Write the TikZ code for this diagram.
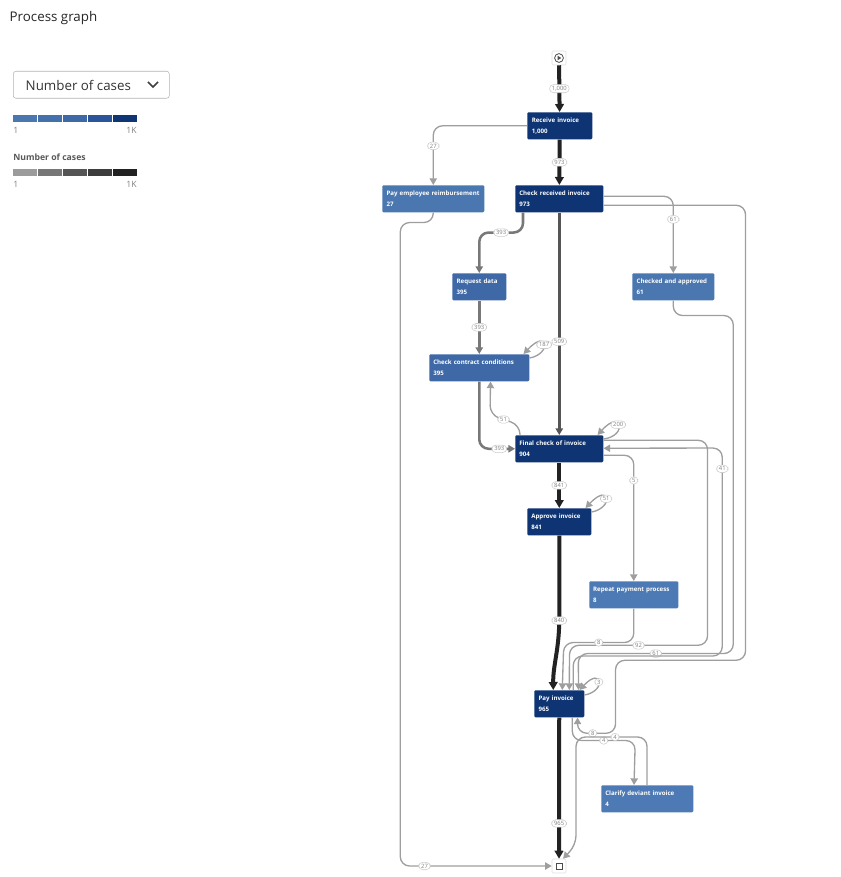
\documentclass[tikz,border=0pt]{standalone}
\usepackage{fontspec}
\setmainfont{Open Sans}
\usetikzlibrary{arrows.meta,calc}
\definecolor{dk}{HTML}{0E3473}
\definecolor{mA}{HTML}{4A77B0}
\definecolor{mB}{HTML}{3E68A6}
\definecolor{mC}{HTML}{4D7AB4}
\definecolor{lnT}{HTML}{9E9E9E}
\definecolor{lnM}{HTML}{787878}
\definecolor{lnD}{HTML}{555555}
\definecolor{lnK}{HTML}{222222}
\begin{document}
\begin{tikzpicture}[x=0.75pt,y=-0.75pt,
  box/.style={rectangle,anchor=north west,inner sep=0pt,text=white,align=left,font=\fontsize{4.6}{7.5}\selectfont\bfseries,rounded corners=0.8pt},
  lbl/.style={draw=gray!40,line width=0.4pt,fill=white,rounded corners=3pt,inner xsep=1.8pt,inner ysep=1.2pt,font=\fontsize{4.4}{5}\selectfont,text=gray},
  tip/.style={-{Triangle[width=5.5pt,length=5pt]}},
  ln/.style={tip,draw=lnT,line width=1pt,rounded corners=7pt},
  lm/.style={tip,draw=lnM,line width=1.9pt,rounded corners=7pt},
  ld/.style={tip,draw=lnD,line width=2pt},
  lk/.style={-{Triangle[width=6.5pt,length=6pt]},draw=lnK,line width=3pt},
  term/.style={draw=gray!25,fill=white,minimum size=10.5pt,inner sep=0pt,rounded corners=1pt}]
\useasboundingbox (0,0) rectangle (840,877);
% legend
\node[anchor=west,font=\fontsize{10}{12}\selectfont,text=black!85] (title) at (5,18) {Process graph};
\node[draw=gray!60,rounded corners=2pt,minimum width=117pt,minimum height=20.25pt,anchor=north west] (dd) at (13,71) {};
\node[anchor=west,font=\fontsize{10}{12}\selectfont,text=black!80] (ddt) at (21,85) {Number of cases};
\draw[line width=1.3pt,black!75] (148,82) -- (153,87) -- (158,82);
\foreach \c [count=\i] in {4A77B0,4471AC,3D69A6,2A559A,0F3575}{
  \definecolor{tmp}{HTML}{\c}
  \fill[tmp] (13+25*\i-25,115) rectangle ++(24,7);}
\foreach \c [count=\i] in {9B9B9B,777777,555555,3D3D3D,222222}{
  \definecolor{tmp}{HTML}{\c}
  \fill[tmp] (13+25*\i-25,169) rectangle ++(24,7);}
\node[anchor=west,font=\fontsize{6.5}{7}\selectfont,text=gray,inner xsep=0pt] (a1) at (13,130) {1};
\node[anchor=east,font=\fontsize{6.5}{7}\selectfont,text=gray,inner xsep=0pt] (a2) at (137,130) {1K};
\node[anchor=west,font=\fontsize{6.5}{7}\selectfont\bfseries,text=black!65,inner xsep=0pt] (lt) at (13,157) {Number of cases};
\node[anchor=west,font=\fontsize{6.5}{7}\selectfont,text=gray,inner xsep=0pt] (b1) at (13,184) {1};
\node[anchor=east,font=\fontsize{6.5}{7}\selectfont,text=gray,inner xsep=0pt] (b2) at (137,184) {1K};
% nodes
\node[term] (start) at (559,58) {};
\draw[black!70,line width=0.6pt] (start) circle (3.3pt);
\fill[black!70] ($(start)+(-1.4,-2.3)$) -- ++(0,4.6) -- ++(3.6,-2.3) -- cycle;
\node[term] (end) at (559,866) {};
\draw[black!70,line width=0.6pt] ($(end)+(-3,-3)$) rectangle ($(end)+(3,3)$);
\node[box,fill=dk,minimum width=48.75pt,minimum height=20.25pt,text width=42pt] (recv) at (527,112) {Receive invoice\\[1pt]1,000};
\node[box,fill=mA,minimum width=76.5pt,minimum height=20.25pt,text width=70pt] (payemp) at (382,185) {Pay employee reimbursement\\[1pt]27};
\node[box,fill=dk,minimum width=66pt,minimum height=20.25pt,text width=60pt] (crecv) at (515,185) {Check received invoice\\[1pt]973};
\node[box,fill=mB,minimum width=40.5pt,minimum height=20.25pt,text width=34pt] (req) at (452,273) {Request data\\[1pt]395};
\node[box,fill=mA,minimum width=61.5pt,minimum height=20.25pt,text width=55pt] (chk) at (632,273) {Checked and approved\\[1pt]61};
\node[box,fill=mB,minimum width=75pt,minimum height=20.25pt,text width=69pt] (cc) at (429,354) {Check contract conditions\\[1pt]395};
\node[box,fill=dk,minimum width=66pt,minimum height=20.25pt,text width=60pt] (fin) at (515,435) {Final check of invoice\\[1pt]904};
\node[box,fill=dk,minimum width=48pt,minimum height=20.25pt,text width=42pt] (appr) at (527,508) {Approve invoice\\[1pt]841};
\node[box,fill=mC,minimum width=66.75pt,minimum height=20.25pt,text width=61pt] (rep) at (589,581) {Repeat payment process\\[1pt]8};
\node[box,fill=dk,minimum width=37.5pt,minimum height=20.25pt,text width=31pt] (pay) at (534,690) {Pay invoice\\[1pt]965};
\node[box,fill=mC,minimum width=69pt,minimum height=20.25pt,text width=63pt] (cla) at (601,785) {Clarify deviant invoice\\[1pt]4};
% edges
\draw[lk] (start) -- node[lbl]{1,000} (recv);
\draw[lk] (recv) -- node[lbl]{973} (crecv);
\draw[ln] (recv.west) -| node[lbl,pos=0.67]{27} (payemp.north);
\draw[lm] ($(crecv.south west)+(8,0)$) -- ++(0,20) -| node[lbl,pos=0.25]{393} (req.north);
\draw[ld] (crecv) -- node[lbl,pos=0.58]{509} (fin);
\draw[ln] ($(crecv.east)+(0,-2.5)$) -| node[lbl,pos=0.65]{61} (chk.north);
\draw[ln] ($(crecv.east)+(0,6.5)$) -- ++(142,0) -- ++(0,455) -- ++(-130,0) -- ++(0,73)
   -- node[lbl,pos=0.6]{8} ++(-38,0) -- ($(pay.south east)+(-7,0)$);
\draw[ln] (chk.south) -- ++(0,15) -- ++(60,0) -- ++(0,338) -- node[lbl,pos=0.5]{61} ++(-155,0) -- ($(pay.north east)+(-6,0)$);
\draw[ln] ($(fin.east)+(0,-8.5)$) -- ++(104,0) -- ++(0,205) -- node[lbl,pos=0.5]{92} ++(-138,0) -- ($(pay.north)+(10,0)$);
\draw[ln] (rep.south) -- ++(0,34) -- node[lbl,pos=0.5]{8} ++(-70,0) -- ($(pay.north)+(3,0)$);
\draw[ln] ($(pay.north)+(14,0)$) -- ++(0,-34) -- ++(149,0) -- node[lbl,pos=0.9]{41} ++(0,-208) -- ($(fin.east)+(0,-0.5)$);
\draw[ln] ($(fin.east)+(0,6.5)$) -| node[lbl,pos=0.6]{5} (rep.north);
\draw[ln] ($(fin.north east)+(0,4)$) .. controls (628,436) and (622,408) .. node[lbl,pos=0.55]{200} ($(fin.north east)+(-6,0)$);
\draw[ln] ($(appr.north east)+(0,4)$) .. controls (614,508) and (610,482) .. node[lbl,pos=0.5]{51} ($(appr.north east)+(-6,0)$);
\draw[ln] ($(cc.north east)+(0,4)$) .. controls (552,354) and (548,328) .. node[lbl,pos=0.5]{187} ($(cc.north east)+(-6,0)$);
\draw[ln] ($(pay.north east)+(0,5)$) .. controls (607,691) and (602,666) .. node[lbl,pos=0.5]{3} ($(pay.north east)+(-5,0)$);
\draw[ln] ($(fin.north west)+(5,0)$) -- ++(0,-10) -- node[lbl,pos=0.55]{51} ++(-30,-10) -- ($(cc.south east)+(-39,0)$);
\draw[lm] (cc.south) |- node[lbl,pos=0.78]{393} (fin.west);
\draw[lm] (req) -- node[lbl]{393} (cc);
\draw[lk] (fin) -- node[lbl]{841} (appr);
\draw[lk] (appr.south) -- ++(0,85) .. controls (559,650) and (553,665) .. node[lbl,pos=0]{840} ($(pay.north)+(-6,0)$);
\draw[lk] (pay) -- node[lbl,pos=0.75]{965} (end);
\draw[ln] ($(pay.south)+(13,0)$) -- ++(0,23) -- node[lbl,pos=0.5]{4} ++(63,0) -- ($(cla.north west)+(33,0)$);
\draw[ln] ($(cla.north west)+(46,0)$) -- ++(0,-48) -- node[lbl,pos=0.45]{4} ++(-71,0) -- ++(0,108) -- ($(end.north)+(4,0)$);
\draw[ln] (payemp.south) -- ++(0,10) -- ++(-33,0) |- node[lbl,pos=0.58]{27} (end.west);
\end{tikzpicture}
\end{document}
